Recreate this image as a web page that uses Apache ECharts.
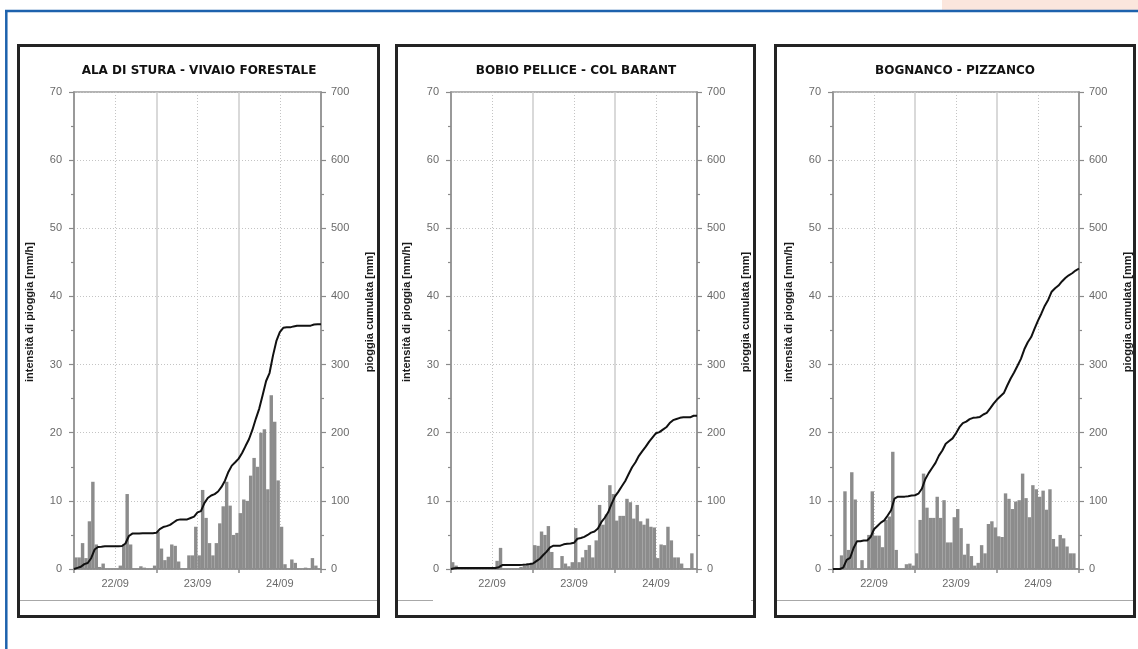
<!DOCTYPE html>
<html>
<head>
<meta charset="utf-8">
<script src="https://cdn.jsdelivr.net/npm/echarts@6/dist/echarts.min.js"></script>
<style>html,body{margin:0;padding:0;background:#fff;}#c{width:1138px;height:649px;}</style>
</head>
<body>
<div id="c"></div>
<script>
// ---- data ----
const dayLabels = ['22/09', '23/09', '24/09'];
const dayLabelHours = [12, 36, 60];
const stationTitles = ['ALA DI STURA - VIVAIO FORESTALE', 'BOBIO PELLICE - COL BARANT', 'BOGNANCO - PIZZANCO'];
const leftAxisName = 'intensità di pioggia [mm/h]';
const rightAxisName = 'pioggia cumulata [mm]';

// hourly rain intensity [mm/h], 72 hours from 22/09 00:00
const alaBars = [
  1.7,1.7,3.8,1.6,7.0,12.8,3.6,0.3,0.8,0,0,0,0,0.5,3.6,11.0,3.6,0,0,0.4,0.2,0,0,0.5,
  5.5,3.0,1.3,1.8,3.6,3.4,1.1,0,0,2.0,2.0,6.2,2.0,11.6,7.5,3.8,2.0,3.8,6.7,9.2,12.8,9.3,5.0,5.3,
  8.2,10.2,10.0,13.7,16.3,15.0,20.0,20.5,11.7,25.5,21.6,13.0,6.2,0.7,0,1.4,0.9,0,0,0.2,0,1.6,0.5,0
];
const bobioBars = [
  1.0,0.5,0,0,0,0,0,0,0,0,0,0,0,1.2,3.1,0,0,0,0,0,0.3,0.5,0.7,0.8,
  3.5,3.4,5.5,5.0,6.3,2.5,0,0,1.9,0.8,0.4,1.0,6.0,1.0,1.7,2.8,3.5,1.7,4.2,9.4,6.5,8.0,12.3,11.0,
  7.1,7.8,7.8,10.3,9.8,7.4,9.4,7.0,6.5,7.4,6.2,6.1,1.6,3.6,3.5,6.2,4.2,1.7,1.7,0.8,0,0,2.3,0
];
const bognancoBars = [
  0,0,2.0,11.4,2.8,14.2,10.2,0,1.3,0,5.0,11.4,4.9,4.9,3.2,7.2,7.7,17.2,2.8,0,0,0.7,0.8,0.5,
  2.3,7.2,14.0,9.0,7.5,7.5,10.6,7.5,10.1,3.9,3.9,7.6,8.8,6.0,2.1,3.7,1.9,0.5,0.9,3.5,2.3,6.6,7.0,6.1,
  4.8,4.7,11.1,10.3,8.8,9.9,10.1,14.0,10.4,7.6,12.3,11.7,10.6,11.5,8.7,11.7,4.4,3.3,5.0,4.5,3.3,2.3,2.3,0
];

// cumulative rain [mm] at each hour mark 0..72
const alaCum = [
  0,1.7,3.4,7.2,8.8,15.8,28.6,32.2,32.5,33.3,33.3,33.3,33.3,33.3,33.8,37.4,48.4,52.0,52.0,52.0,52.4,52.6,52.6,52.6,
  53.1,58.6,61.6,62.9,64.7,68.3,71.7,72.8,72.8,72.8,74.8,76.8,83.0,85.0,96.6,104.1,107.9,109.9,113.7,120.4,129.6,142.4,151.7,156.7,
  162.0,170.2,180.4,190.4,204.1,220.4,235.4,255.4,275.9,287.6,313.1,334.7,347.7,353.9,354.6,354.6,356.0,356.9,356.9,356.9,357.1,357.1,358.7,359.2,359.2
];
const bobioCum = [
  0,1.0,1.5,1.5,1.5,1.5,1.5,1.5,1.5,1.5,1.5,1.5,1.5,1.5,2.7,5.8,5.8,5.8,5.8,5.8,5.8,6.1,6.6,7.3,
  8.1,11.6,15.0,20.5,25.5,31.8,34.3,34.3,34.3,36.2,37.0,37.4,38.4,44.4,45.4,47.1,49.9,53.4,55.1,59.3,68.7,75.2,83.2,95.5,
  106.5,113.6,121.4,129.2,139.5,149.3,156.7,166.1,173.1,179.6,187.0,193.2,199.3,200.9,204.5,208.0,214.2,218.4,220.1,221.8,222.6,222.6,222.6,224.9,224.9
];
const bognancoCum = [
  0,0,0,2.0,13.4,16.2,30.4,40.6,40.6,41.9,41.9,46.9,58.3,63.2,68.1,71.3,78.5,86.2,103.4,106.2,106.2,106.2,106.9,107.7,
  108.2,110.5,117.7,131.7,140.7,148.2,155.7,166.3,173.8,183.9,187.8,191.7,199.3,208.1,214.1,216.2,219.9,221.8,222.3,223.2,226.7,229.0,235.6,242.6,
  248.7,253.5,258.2,269.3,279.6,288.4,298.3,308.4,322.4,332.8,340.4,352.7,364.4,375.0,386.5,395.2,406.9,412,416,422,427,431,434,438,441
];

const barsList = [alaBars, bobioBars, bognancoBars];
const cumList = [alaCum, bobioCum, bognancoCum];

// ---- layout ----
const FONT = '"Liberation Sans", Arial, sans-serif';
const TITLE_FONT = '"DejaVu Sans", "Liberation Sans", sans-serif';
const gridLefts = [74, 451, 833];
const gridWidths = [247, 246, 246];
const GRID_TOP = 92, GRID_H = 477;
const frames = [[17, 44, 363, 574], [395, 44, 361, 574], [774, 44, 362, 574]];
const titleX = [199, 576, 955];

const chart = echarts.init(document.getElementById('c'), null, {renderer: 'canvas'});

const grids = [], xAxes = [], yAxes = [], series = [], graphics = [];

graphics.push({type: 'rect', shape: {x: 942, y: 0, width: 196, height: 10}, style: {fill: '#fbe6dd'}, z: 0});
graphics.push({type: 'line', shape: {x1: 5, y1: 11, x2: 1138, y2: 11}, style: {stroke: '#1d62ad', lineWidth: 2.5}});
graphics.push({type: 'line', shape: {x1: 6.3, y1: 10, x2: 6.3, y2: 649}, style: {stroke: '#1d62ad', lineWidth: 2.5}});

for (let k = 0; k < 3; k++) {
  grids.push({left: gridLefts[k], top: GRID_TOP, width: gridWidths[k], height: GRID_H,
    show: true, borderColor: '#9a9a9a', borderWidth: 1.5, backgroundColor: 'transparent'});
  xAxes.push({
    gridIndex: k, type: 'value', min: 0, max: 72, interval: 24,
    axisLine: {show: true, onZero: false, lineStyle: {color: '#8a8a8a', width: 1.5}},
    axisTick: {show: true, length: 4, lineStyle: {color: '#8a8a8a', width: 1.5}},
    axisLabel: {customValues: dayLabelHours, formatter: v => dayLabels[dayLabelHours.indexOf(v)] || '',
      color: '#6a6a6a', fontSize: 11, fontFamily: FONT, margin: 9},
    splitLine: {show: true, lineStyle: {color: '#cccccc', width: 1.5, type: 'solid'}},
    minorTick: {show: false, splitNumber: 2},
    minorSplitLine: {show: true, lineStyle: {color: '#c4c4c4', width: 1, type: [1, 2]}}
  });
  yAxes.push({
    gridIndex: k, type: 'value', position: 'left', min: 0, max: 70, interval: 10,
    axisLine: {show: true, onZero: false, lineStyle: {color: '#8a8a8a', width: 1.5}},
    axisTick: {show: true, length: 5, lineStyle: {color: '#8a8a8a', width: 1.2}},
    minorTick: {show: true, splitNumber: 2, length: 3, lineStyle: {color: '#8a8a8a', width: 1.2}},
    axisLabel: {color: '#6a6a6a', fontSize: 11, fontFamily: FONT, margin: 12},
    splitLine: {show: true, lineStyle: {color: '#c4c4c4', width: 1, type: [1, 2]}}
  });
  yAxes.push({
    gridIndex: k, type: 'value', position: 'right', min: 0, max: 700, interval: 100,
    axisLine: {show: true, onZero: false, lineStyle: {color: '#8a8a8a', width: 1.5}},
    axisTick: {show: true, length: 5, lineStyle: {color: '#8a8a8a', width: 1.2}},
    minorTick: {show: true, splitNumber: 2, length: 3, lineStyle: {color: '#8a8a8a', width: 1.2}},
    axisLabel: {color: '#6a6a6a', fontSize: 11, fontFamily: FONT, margin: 10},
    splitLine: {show: false}
  });
  series.push({
    type: 'bar', xAxisIndex: k, yAxisIndex: 2 * k,
    data: barsList[k].map((v, i) => [i + 0.5, v]),
    barCategoryGap: '0%', barGap: '0%',
    itemStyle: {color: '#8c8c8c'}, silent: true, z: 2
  });
  series.push({
    type: 'line', xAxisIndex: k, yAxisIndex: 2 * k + 1,
    data: cumList[k].map((v, i) => [i, v]),
    symbol: 'none', lineStyle: {color: '#111', width: 2}, silent: true, z: 3
  });

  const [fx, fy, fw, fh] = frames[k];
  graphics.push({type: 'rect', shape: {x: fx + 1.5, y: fy + 1.5, width: fw - 3, height: fh - 3},
    style: {fill: 'none', stroke: '#232323', lineWidth: 3}, z: 10});
  if (k === 1) {
    graphics.push({type: 'line', shape: {x1: fx + 3, y1: 600.5, x2: 433, y2: 600.5}, style: {stroke: '#a8a8a8', lineWidth: 1}});
    graphics.push({type: 'line', shape: {x1: 751, y1: 600.5, x2: fx + fw - 3, y2: 600.5}, style: {stroke: '#a8a8a8', lineWidth: 1}});
  } else {
    graphics.push({type: 'line', shape: {x1: fx + 3, y1: 600.5, x2: fx + fw - 3, y2: 600.5}, style: {stroke: '#a8a8a8', lineWidth: 1}});
  }
  graphics.push({type: 'text', x: titleX[k], y: 71,
    style: {text: stationTitles[k], font: 'bold 12px ' + TITLE_FONT, fill: '#111', textAlign: 'center', textVerticalAlign: 'middle'}, z: 10});
  graphics.push({type: 'text', x: gridLefts[k] - 44, y: 312, rotation: Math.PI / 2,
    style: {text: leftAxisName, font: 'bold 11px ' + FONT, fill: '#1a1a1a', textAlign: 'center', textVerticalAlign: 'middle'}, z: 10});
  graphics.push({type: 'text', x: gridLefts[k] + gridWidths[k] + 49, y: 312, rotation: Math.PI / 2,
    style: {text: rightAxisName, font: 'bold 11px ' + FONT, fill: '#1a1a1a', textAlign: 'center', textVerticalAlign: 'middle'}, z: 10});
}

chart.setOption({
  animation: false,
  backgroundColor: '#ffffff',
  grid: grids,
  xAxis: xAxes,
  yAxis: yAxes,
  series: series,
  graphic: {elements: graphics}
});
</script>
</body>
</html>
